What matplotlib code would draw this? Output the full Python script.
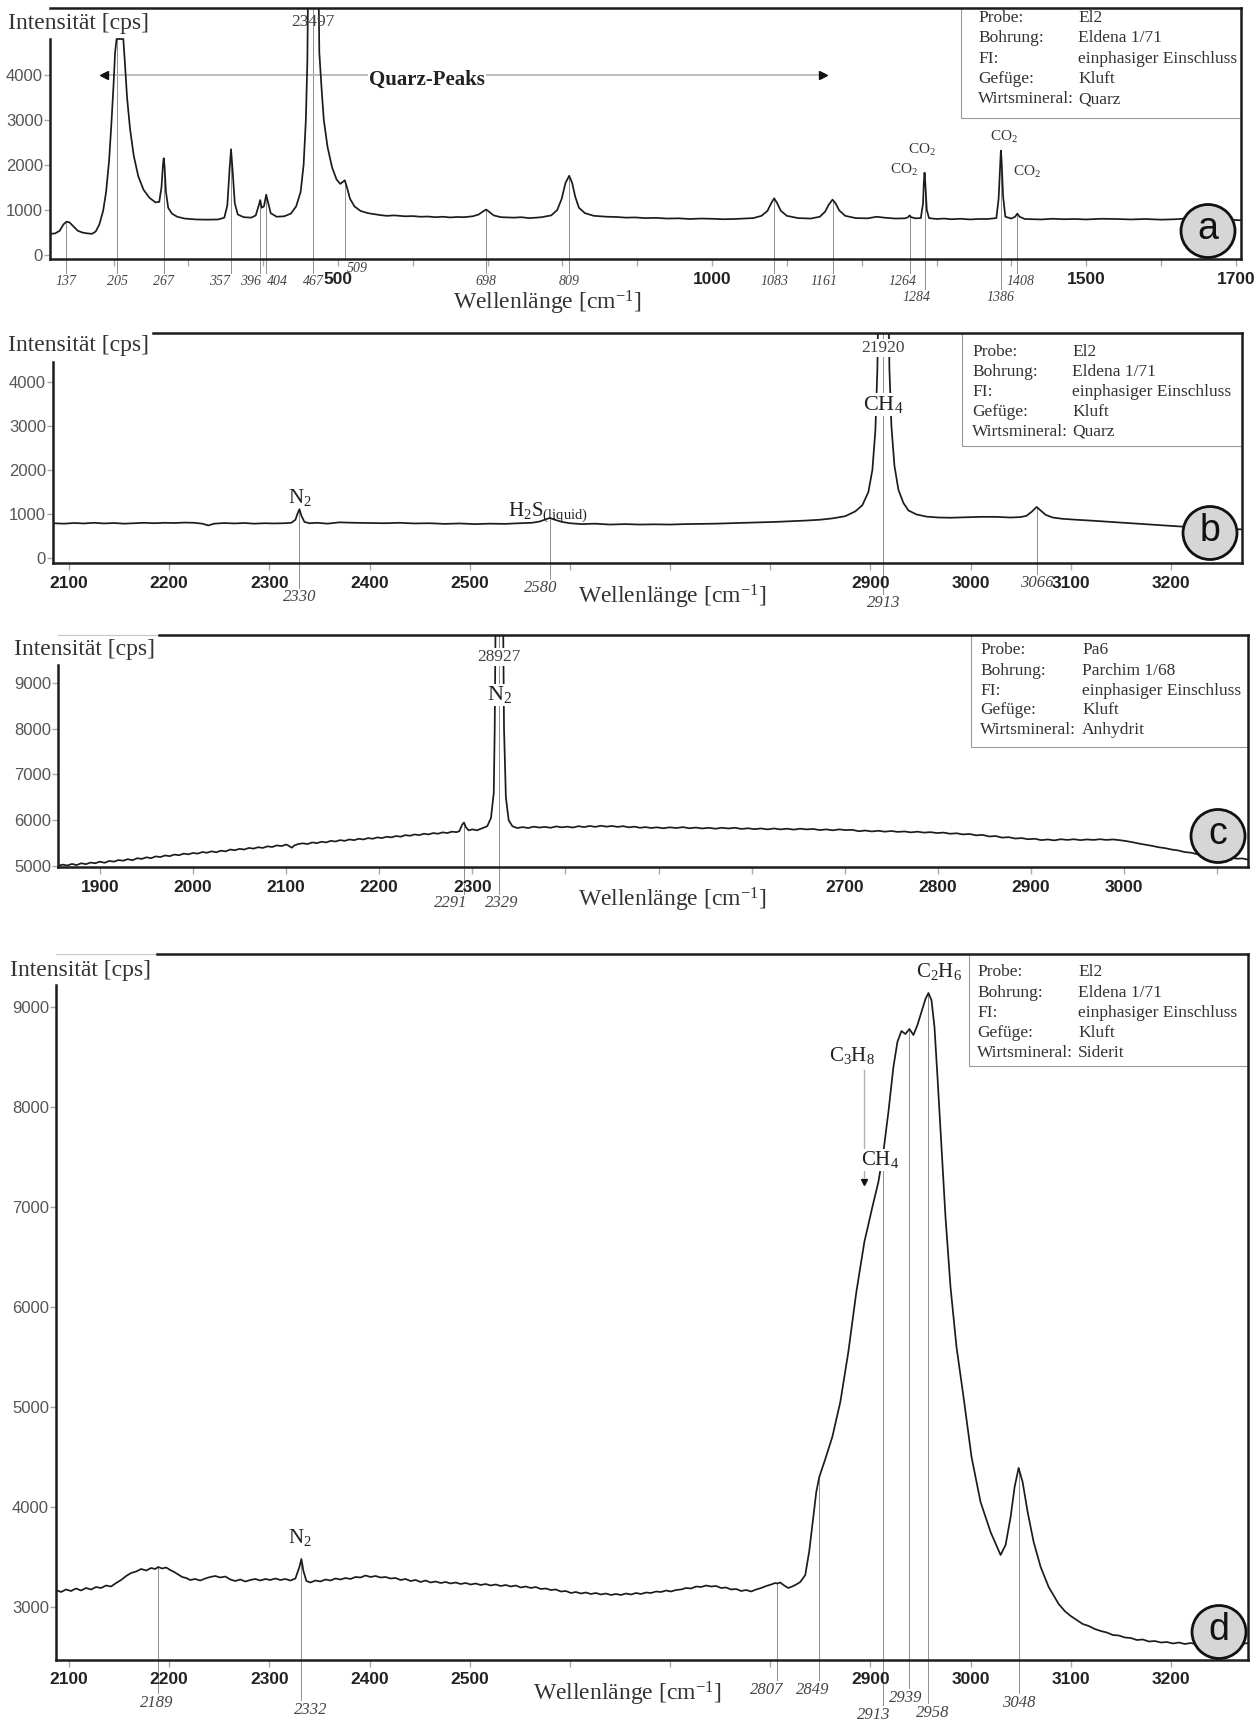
import numpy as np
import matplotlib.pyplot as plt
from matplotlib.patches import Ellipse, Rectangle

plt.rcParams['font.family'] = ['Liberation Serif', 'DejaVu Serif']
plt.rcParams['mathtext.fontset'] = 'custom'
plt.rcParams['mathtext.rm'] = 'Liberation Serif'
plt.rcParams['mathtext.it'] = 'Liberation Serif:italic'
plt.rcParams['mathtext.bf'] = 'Liberation Serif:bold'

W, H = 1255, 1722
SANS = 'Liberation Sans'
INK = '#1c1c1c'
GREY = '#8f8f8f'

# ---------------- spectra: [wavenumber, counts] ----------------
# a) El2 / Quarz, 115-1707 cm-1
spec_a = [
    [115, 470], [122, 480], [128, 540], [133, 680], [137, 740], [141, 725], [146, 640], [152, 540],
    [158, 500], [165, 480], [171, 470], [176, 520], [181, 680], [186, 980], [190, 1400], [194, 2100],
    [197, 2900], [200, 3800], [202, 4500], [204, 4800], [213, 4800], [215, 4300], [218, 3500],
    [222, 2800], [227, 2200], [233, 1750], [240, 1450], [248, 1270], [256, 1170], [261, 1180],
    [264, 1500], [266, 2000], [267, 2150], [268, 2000], [270, 1400], [273, 1050], [278, 920],
    [285, 850], [295, 810], [310, 790], [325, 785], [340, 790], [348, 830], [352, 1100], [355, 1900],
    [357, 2350], [359, 1900], [362, 1150], [366, 900], [374, 840], [384, 830], [390, 880], [394, 1100],
    [396, 1220], [398, 1050], [401, 1080], [404, 1340], [406, 1200], [410, 930], [418, 850], [428, 860],
    [437, 920], [444, 1080], [450, 1400], [454, 2000], [457, 3000], [459, 4300], [460, 6000],
    [474, 6000], [475, 4500], [478, 3700], [481, 3000], [486, 2400], [492, 1950], [498, 1680],
    [503, 1580], [506, 1620], [509, 1660], [512, 1500], [516, 1250], [522, 1080], [530, 980],
    [540, 930], [555, 890], [565, 870], [575, 880], [590, 860], [600, 865], [610, 850], [620, 855],
    [630, 840], [640, 850], [650, 835], [660, 845], [668, 840], [680, 860], [688, 900], [694, 970],
    [698, 1010], [702, 960], [708, 880], [718, 840], [728, 835], [735, 830], [745, 840], [755, 820],
    [765, 830], [772, 840], [785, 880], [793, 1000], [799, 1250], [804, 1600], [809, 1760],
    [813, 1600], [817, 1300], [822, 1050], [830, 930], [842, 870], [852, 860], [860, 850], [872, 845],
    [885, 830], [897, 835], [910, 820], [925, 825], [940, 810], [955, 815], [970, 800], [985, 810],
    [1000, 805], [1015, 795], [1030, 800], [1042, 810], [1055, 820], [1066, 870], [1074, 980],
    [1079, 1150], [1083, 1260], [1087, 1150], [1092, 980], [1100, 870], [1115, 820], [1132, 810],
    [1144, 850], [1151, 960], [1156, 1120], [1161, 1230], [1165, 1150], [1170, 990], [1178, 870],
    [1192, 820], [1208, 815], [1220, 850], [1230, 830], [1245, 810], [1258, 815], [1262, 840],
    [1264, 880], [1266, 840], [1272, 815], [1279, 820], [1282, 1150], [1283, 1600], [1284, 1830],
    [1285, 1600], [1287, 1000], [1290, 820], [1300, 800], [1310, 810], [1320, 795], [1332, 805],
    [1345, 790], [1356, 800], [1368, 800], [1380, 820], [1383, 1250], [1385, 2000], [1386, 2320],
    [1387, 2100], [1389, 1300], [1392, 850], [1400, 810], [1405, 850], [1408, 920], [1411, 850],
    [1418, 800], [1430, 795], [1440, 790], [1455, 805], [1470, 795], [1485, 800], [1500, 790],
    [1520, 805], [1540, 800], [1560, 790], [1580, 800], [1600, 785], [1620, 795], [1635, 810],
    [1650, 800], [1665, 790], [1680, 795], [1695, 780], [1707, 770],
]

# b) El2 / Quarz, 2084-3271 cm-1
spec_b = [
    [2084, 790], [2095, 780], [2105, 795], [2115, 785], [2125, 800], [2135, 785], [2145, 795],
    [2155, 780], [2165, 790], [2175, 800], [2185, 790], [2195, 800], [2205, 795], [2215, 805],
    [2225, 800], [2233, 780], [2239, 740], [2245, 780], [2255, 795], [2265, 785], [2275, 795],
    [2285, 780], [2295, 790], [2305, 785], [2315, 790], [2322, 800], [2326, 870], [2328, 1000],
    [2330, 1110], [2332, 960], [2335, 820], [2340, 790], [2348, 800], [2358, 780], [2370, 810],
    [2385, 800], [2400, 795], [2415, 790], [2430, 800], [2445, 785], [2460, 790], [2475, 775],
    [2490, 785], [2505, 770], [2520, 780], [2535, 775], [2550, 790], [2562, 800], [2570, 830],
    [2576, 880], [2580, 910], [2585, 870], [2592, 820], [2600, 790], [2612, 770], [2625, 780],
    [2640, 760], [2655, 770], [2670, 760], [2685, 765], [2700, 760], [2715, 770], [2730, 775],
    [2745, 780], [2760, 790], [2775, 800], [2790, 810], [2805, 820], [2820, 835], [2835, 850],
    [2850, 870], [2862, 900], [2875, 950], [2885, 1060], [2892, 1200], [2898, 1500], [2902, 2000],
    [2905, 2900], [2907, 4300], [2908, 6000], [2918, 6000], [2919, 4300], [2921, 3000],
    [2924, 2100], [2928, 1550], [2933, 1250], [2938, 1080], [2946, 990], [2956, 940], [2968, 920],
    [2980, 915], [2995, 925], [3010, 935], [3025, 935], [3040, 920], [3050, 930], [3056, 960],
    [3061, 1050], [3066, 1160], [3070, 1080], [3075, 980], [3082, 920], [3092, 890], [3105, 870],
    [3120, 850], [3140, 820], [3160, 790], [3180, 760], [3200, 730], [3220, 700], [3240, 680],
    [3260, 660], [3271, 650],
]

# c) Pa6 / Anhydrit, 1855-3133 cm-1
spec_c = [
    [1855, 5000], [1860, 5030], [1865, 5010], [1870, 5045], [1875, 5020], [1880, 5060], [1885, 5040],
    [1890, 5075], [1895, 5060], [1900, 5095], [1905, 5070], [1910, 5110], [1915, 5095], [1920, 5130],
    [1925, 5115], [1930, 5150], [1935, 5125], [1940, 5170], [1945, 5155], [1950, 5190], [1955, 5170],
    [1960, 5210], [1965, 5195], [1970, 5230], [1975, 5215], [1980, 5250], [1985, 5235], [1990, 5270],
    [1995, 5255], [2000, 5285], [2005, 5270], [2010, 5305], [2015, 5290], [2020, 5320], [2025, 5300],
    [2030, 5335], [2035, 5320], [2040, 5360], [2045, 5345], [2050, 5375], [2055, 5360], [2060, 5395],
    [2065, 5380], [2070, 5410], [2075, 5395], [2080, 5430], [2085, 5415], [2090, 5450], [2095, 5435],
    [2100, 5470], [2103, 5440], [2106, 5400], [2109, 5450], [2113, 5480], [2118, 5495], [2123, 5480],
    [2128, 5515], [2133, 5500], [2138, 5530], [2143, 5515], [2148, 5550], [2153, 5535], [2158, 5565],
    [2163, 5550], [2168, 5580], [2173, 5565], [2178, 5595], [2183, 5580], [2188, 5610], [2193, 5595],
    [2198, 5625], [2203, 5610], [2208, 5640], [2213, 5625], [2218, 5655], [2223, 5640], [2228, 5675],
    [2233, 5660], [2238, 5690], [2243, 5675], [2248, 5705], [2253, 5690], [2258, 5720], [2263, 5705],
    [2268, 5735], [2273, 5720], [2278, 5750], [2283, 5740], [2286, 5760], [2289, 5900], [2291, 5950],
    [2293, 5850], [2296, 5780], [2300, 5800], [2305, 5780], [2310, 5820], [2316, 5870], [2320, 6050],
    [2323, 6600], [2324, 8000], [2325, 10500], [2333, 10500], [2334, 8000], [2336, 6500],
    [2339, 6000], [2343, 5870], [2348, 5830], [2354, 5850], [2360, 5830], [2366, 5860], [2372, 5840],
    [2378, 5855], [2384, 5835], [2390, 5865], [2396, 5845], [2402, 5860], [2408, 5840], [2414, 5870],
    [2420, 5850], [2426, 5875], [2432, 5855], [2438, 5880], [2444, 5860], [2450, 5875], [2456, 5855],
    [2462, 5870], [2468, 5845], [2474, 5860], [2480, 5835], [2486, 5850], [2492, 5830], [2498, 5845],
    [2505, 5825], [2512, 5845], [2519, 5830], [2526, 5850], [2533, 5825], [2540, 5840], [2547, 5820],
    [2554, 5835], [2561, 5815], [2568, 5835], [2575, 5820], [2582, 5835], [2589, 5810], [2596, 5825],
    [2603, 5805], [2610, 5820], [2617, 5800], [2624, 5820], [2631, 5800], [2638, 5815], [2645, 5795],
    [2652, 5815], [2659, 5800], [2666, 5810], [2673, 5785], [2680, 5800], [2687, 5780], [2694, 5800],
    [2701, 5785], [2708, 5790], [2715, 5760], [2722, 5775], [2729, 5755], [2736, 5770], [2743, 5750],
    [2750, 5765], [2757, 5745], [2764, 5755], [2771, 5735], [2778, 5750], [2785, 5730], [2792, 5740],
    [2799, 5720], [2806, 5730], [2813, 5705], [2820, 5715], [2827, 5690], [2834, 5700], [2841, 5670],
    [2848, 5680], [2855, 5645], [2862, 5655], [2869, 5620], [2876, 5630], [2883, 5600], [2890, 5610],
    [2897, 5585], [2904, 5595], [2911, 5565], [2918, 5580], [2925, 5560], [2932, 5585], [2939, 5570],
    [2946, 5585], [2953, 5565], [2960, 5580], [2967, 5570], [2974, 5585], [2981, 5570], [2988, 5580],
    [2995, 5565], [3002, 5545], [3009, 5520], [3016, 5490], [3023, 5465], [3030, 5440], [3037, 5410],
    [3044, 5390], [3051, 5360], [3058, 5340], [3065, 5305], [3072, 5290], [3079, 5255], [3086, 5245],
    [3093, 5210], [3100, 5205], [3107, 5180], [3114, 5185], [3121, 5160], [3127, 5165], [3133, 5140],
]

# d) El2 / Siderit, 2087-3277 cm-1
spec_d = [
    [2087, 3170], [2092, 3150], [2097, 3175], [2102, 3160], [2107, 3185], [2112, 3165], [2117, 3190],
    [2122, 3175], [2127, 3200], [2132, 3190], [2137, 3215], [2142, 3205], [2147, 3240], [2152, 3270],
    [2157, 3310], [2162, 3340], [2167, 3355], [2172, 3380], [2177, 3365], [2182, 3390], [2186, 3380],
    [2189, 3400], [2193, 3385], [2197, 3395], [2201, 3370], [2205, 3350], [2209, 3325], [2213, 3300],
    [2217, 3290], [2221, 3270], [2226, 3280], [2231, 3265], [2236, 3285], [2241, 3300], [2246, 3310],
    [2251, 3295], [2256, 3305], [2261, 3275], [2266, 3260], [2271, 3275], [2276, 3255], [2281, 3270],
    [2286, 3280], [2291, 3265], [2296, 3280], [2301, 3270], [2306, 3285], [2311, 3270], [2316, 3280],
    [2321, 3265], [2326, 3285], [2330, 3400], [2332, 3480], [2334, 3360], [2337, 3260], [2341, 3245],
    [2346, 3265], [2351, 3255], [2356, 3275], [2361, 3265], [2366, 3285], [2371, 3275], [2376, 3290],
    [2381, 3280], [2386, 3300], [2391, 3295], [2396, 3315], [2401, 3300], [2406, 3310], [2411, 3295],
    [2416, 3300], [2421, 3285], [2426, 3290], [2431, 3270], [2436, 3280], [2441, 3260], [2446, 3270],
    [2451, 3250], [2456, 3265], [2461, 3245], [2466, 3255], [2471, 3240], [2476, 3250], [2481, 3235],
    [2486, 3245], [2491, 3230], [2496, 3240], [2501, 3225], [2506, 3235], [2511, 3220], [2516, 3230],
    [2521, 3215], [2526, 3225], [2531, 3210], [2536, 3220], [2541, 3205], [2546, 3215], [2551, 3195],
    [2556, 3205], [2561, 3190], [2566, 3200], [2571, 3180], [2576, 3185], [2581, 3170], [2586, 3175],
    [2591, 3155], [2596, 3160], [2601, 3140], [2606, 3150], [2611, 3135], [2616, 3145], [2621, 3130],
    [2626, 3140], [2631, 3125], [2636, 3135], [2641, 3120], [2646, 3130], [2651, 3120], [2656, 3135],
    [2661, 3125], [2666, 3140], [2671, 3130], [2676, 3145], [2681, 3140], [2686, 3155], [2691, 3150],
    [2696, 3165], [2701, 3155], [2706, 3170], [2711, 3175], [2716, 3190], [2721, 3185], [2726, 3205],
    [2731, 3200], [2736, 3215], [2741, 3205], [2746, 3210], [2751, 3190], [2756, 3195], [2761, 3175],
    [2766, 3180], [2771, 3160], [2776, 3170], [2781, 3155], [2786, 3175], [2791, 3190], [2796, 3210],
    [2801, 3225], [2805, 3240], [2807, 3235], [2810, 3245], [2814, 3215], [2818, 3190], [2822, 3205],
    [2826, 3225], [2830, 3250], [2835, 3320], [2839, 3560], [2843, 3900], [2846, 4150], [2849, 4300],
    [2855, 4480], [2862, 4700], [2870, 5050], [2878, 5550], [2886, 6150], [2894, 6650], [2902, 7000],
    [2908, 7250], [2913, 7550], [2918, 7950], [2923, 8400], [2927, 8650], [2931, 8760], [2935, 8730],
    [2939, 8780], [2943, 8720], [2947, 8820], [2951, 8950], [2955, 9080], [2958, 9140], [2961, 9070],
    [2964, 8800], [2967, 8300], [2971, 7600], [2975, 6900], [2980, 6200], [2986, 5600], [2993, 5100],
    [3001, 4500], [3010, 4050], [3020, 3750], [3030, 3520], [3035, 3620], [3040, 3900], [3044, 4200],
    [3048, 4390], [3052, 4250], [3057, 3950], [3063, 3650], [3070, 3400], [3078, 3200], [3088, 3030],
    [3094, 2960], [3100, 2910], [3106, 2870], [3112, 2830], [3118, 2810], [3124, 2780], [3130, 2760],
    [3136, 2745], [3142, 2720], [3148, 2715], [3154, 2695], [3160, 2690], [3166, 2670], [3172, 2675],
    [3178, 2655], [3184, 2660], [3190, 2645], [3196, 2650], [3202, 2635], [3208, 2645], [3214, 2630],
    [3220, 2640], [3226, 2625], [3232, 2635], [3238, 2620], [3244, 2630], [3250, 2620], [3256, 2630],
    [3262, 2615], [3268, 2625], [3277, 2640],
]

# peak positions, label x-offset and label height (counts)
peaks_a = [137, 205, 267, 357, 396, 404, 467, 509, 698, 809, 1083, 1161, 1264, 1284, 1386, 1408]
dx_a = [0, 0, 0, -15, -13, 15, 0, 17, 0, 0, 0, -12, -10, -11, 0, 4]
ly_a = [-600, -600, -600, -600, -600, -600, -600, -290, -600, -600, -600, -600, -600, -955, -955, -600]

peaks_b = [2330, 2580, 2913, 3066]
dx_b = [0, -9, 0, 0]
ly_b = [-890, -680, -1020, -570]

peaks_c = [2291, 2329]
dx_c = [-14, 3]
ly_c = [4190, 4190]

peaks_d = [2189, 2332, 2807, 2849, 2913, 2939, 2958, 3048]
dx_d = [-1, 9, -10, -7, -10, -4, 4, 0]
ly_d = [2040, 1970, 2170, 2170, 1920, 2090, 1940, 2040]

info_a = [('Probe:', 'El2'), ('Bohrung:', 'Eldena 1/71'), ('FI:', 'einphasiger Einschluss'),
          ('Gefüge:', 'Kluft'), ('Wirtsmineral:', 'Quarz')]
info_b = [('Probe:', 'El2'), ('Bohrung:', 'Eldena 1/71'), ('FI:', 'einphasiger Einschluss'),
          ('Gefüge:', 'Kluft'), ('Wirtsmineral:', 'Quarz')]
info_c = [('Probe:', 'Pa6'), ('Bohrung:', 'Parchim 1/68'), ('FI:', 'einphasiger Einschluss'),
          ('Gefüge:', 'Kluft'), ('Wirtsmineral:', 'Anhydrit')]
info_d = [('Probe:', 'El2'), ('Bohrung:', 'Eldena 1/71'), ('FI:', 'einphasiger Einschluss'),
          ('Gefüge:', 'Kluft'), ('Wirtsmineral:', 'Siderit')]

fig = plt.figure(figsize=(W / 100, H / 100), dpi=100)


def fx(x, y):
    # pixel position -> figure fraction
    return x / W, 1 - y / H


def panel(box, xlim, ylim, xticks, xshown, yticks, left_top, top_from=None):
    left, top, right, bottom = box
    ax = fig.add_axes([left / W, 1 - bottom / H, (right - left) / W, (bottom - top) / H])
    ax.set_xlim(xlim)
    ax.set_ylim(ylim)
    ax.set_xticks(xticks)
    ax.set_xticklabels([str(t) if t in xshown else '' for t in xticks],
                       fontfamily=SANS, fontweight='bold', fontsize=12.5, color='#222')
    ax.set_yticks(yticks)
    ax.set_yticklabels([str(t) for t in yticks], fontfamily=SANS, fontsize=12, color='#555')
    ax.tick_params(axis='x', length=5, width=1, color='#aaa', pad=4)
    ax.tick_params(axis='y', length=4, width=1, color='#aaa', pad=1)
    for s in ax.spines.values():
        s.set_linewidth(1.8)
        s.set_color(INK)
    ax.spines['left'].set_bounds(ylim[0], left_top)
    if top_from is not None:
        ax.spines['top'].set_bounds(top_from, xlim[1])
    return ax


def spectrum(ax, spec):
    wn, counts = np.array(spec, dtype=float).T
    ax.plot(wn, counts, color=INK, lw=1.25, zorder=2)
    return wn, counts


def mark_peaks(ax, wn, counts, peaks, dx, ly, gap, size):
    ytop = ax.get_ylim()[1]
    for p, d, y in zip(peaks, dx, ly):
        top = min(np.interp(p, wn, counts), ytop)
        ax.plot([p, p], [y + gap, top], color=GREY, lw=0.7, zorder=1, clip_on=False)
        ax.text(p + d, y, str(p), style='italic', fontsize=size, color='#444',
                ha='center', va='center', clip_on=False)


def info_box(ax, x0, y0, x1, y1, col1, col2, rows_y, rows):
    ax.add_patch(Rectangle(fx(x0, y1), (x1 - x0) / W, (y1 - y0) / H, transform=fig.transFigure,
                           facecolor='white', edgecolor='#999', lw=0.8, zorder=2.2, clip_on=False))
    for (k, v), ry in zip(rows, rows_y):
        ax.text(*fx(col1, ry), k, transform=fig.transFigure, fontsize=12.5, color='#333', va='center')
        ax.text(*fx(col2, ry), v, transform=fig.transFigure, fontsize=12.5, color='#333', va='center')


def badge(ax, cx, cy, letter):
    ax.add_patch(Ellipse(fx(cx, cy), 54 / W, 53 / H, transform=fig.transFigure, facecolor='#d6d6d6',
                         edgecolor='#111', lw=2, zorder=6, clip_on=False))
    ax.text(*fx(cx, cy - 2), letter, transform=fig.transFigure, fontfamily=SANS, fontsize=27,
            ha='center', va='center', color='#111', zorder=7)


def axis_titles(lx, ly, wx, wy):
    fig.text(*fx(lx, ly), 'Intensität [cps]', fontsize=17, color='#333', va='center')
    fig.text(*fx(wx, wy), 'Wellenlänge [cm$^{-1}$]', fontsize=17, color='#333', ha='center', va='center')


white = dict(facecolor='white', edgecolor='none', pad=0.6)

# ---------------- a ----------------
ax_a = panel((50, 8, 1241, 259), (115, 1707), (-89, 5489), list(range(200, 1701, 100)),
             {500, 1000, 1500, 1700}, [0, 1000, 2000, 3000, 4000], 4800)
wn, cts = spectrum(ax_a, spec_a)
mark_peaks(ax_a, wn, cts, peaks_a, dx_a, ly_a, 200, 10)
ax_a.plot([187, 1148], [4000, 4000], color='#b8b8b8', lw=1.3, zorder=1)
ax_a.plot([187], [4000], marker='<', color='#111', ms=6, zorder=3)
ax_a.plot([1148], [4000], marker='>', color='#111', ms=6, zorder=3)
ax_a.text(619, 3890, 'Quarz-Peaks', fontweight='bold', fontsize=15, color='#222',
          ha='center', va='center', bbox=white)
ax_a.text(467, 5180, '23497', fontsize=12.5, color='#444', ha='center', va='center')
for x, y in [(1257, 1890), (1281, 2330), (1390, 2620), (1421, 1840)]:
    ax_a.text(x, y, 'CO$_2$', fontsize=11, color='#333', ha='center', va='center')
info_box(ax_a, 961, 8, 1241, 118, 978, 1078, [18, 38, 59, 79, 99], info_a)
badge(ax_a, 1208, 231, 'a')
axis_titles(8, 24, 547, 303)

# ---------------- b ----------------
ax_b = panel((53, 333, 1242, 563), (2084, 3271), (-114, 5114), list(range(2100, 3201, 100)),
             {2100, 2200, 2300, 2400, 2500, 2900, 3000, 3100, 3200}, [0, 1000, 2000, 3000, 4000],
             4450, top_from=2184)
wn, cts = spectrum(ax_b, spec_b)
mark_peaks(ax_b, wn, cts, peaks_b, dx_b, ly_b, 200, 12)
ax_b.text(2330, 1386, 'N$_2$', fontsize=15, color='#222', ha='center', va='center')
ax_b.text(2578, 1045, 'H$_2$S$_{\\mathrm{(liquid)}}$', fontsize=15, color='#222', ha='center', va='center')
ax_b.text(2913, 4770, '21920', fontsize=12.5, color='#444', ha='center', va='center', bbox=white)
ax_b.text(2913, 3480, 'CH$_4$', fontsize=16, color='#222', ha='center', va='center', bbox=white)
info_box(ax_b, 962, 333, 1242, 446, 972, 1072, [352, 372, 392, 412, 432], info_b)
badge(ax_b, 1210, 533, 'b')
axis_titles(8, 345, 672, 597)

# ---------------- c ----------------
ax_c = panel((58, 635, 1248, 867), (1855, 3133), (4978, 10049), list(range(1900, 3101, 100)),
             {1900, 2000, 2100, 2200, 2300, 2700, 2800, 2900, 3000},
             [5000, 6000, 7000, 8000, 9000], 9390, top_from=1963)
ax_c.plot([1855, 1963], [10049, 10049], color='#c8c8c8', lw=0.8, clip_on=False)
wn, cts = spectrum(ax_c, spec_c)
mark_peaks(ax_c, wn, cts, peaks_c, dx_c, ly_c, 190, 12)
ax_c.text(2329, 9568, '28927', fontsize=12.5, color='#444', ha='center', va='center', bbox=white)
ax_c.text(2329, 8738, 'N$_2$', fontsize=16, color='#222', ha='center', va='center', bbox=white)
info_box(ax_c, 971, 635, 1248, 747, 980, 1082, [650, 671, 691, 710, 730], info_c)
badge(ax_c, 1218, 836, 'c')
axis_titles(14, 650, 672, 900)

# ---------------- d ----------------
ax_d = panel((56, 954, 1248, 1660), (2087, 3277), (2470, 9530), list(range(2100, 3201, 100)),
             {2100, 2200, 2300, 2400, 2500, 2900, 3000, 3100, 3200},
             [3000, 4000, 5000, 6000, 7000, 8000, 9000], 9220, top_from=2188)
ax_d.plot([2087, 2188], [9530, 9530], color='#c8c8c8', lw=0.8, clip_on=False)
wn, cts = spectrum(ax_d, spec_d)
mark_peaks(ax_d, wn, cts, peaks_d, dx_d, ly_d, 100, 12)
ax_d.text(2330, 3700, 'N$_2$', fontsize=15, color='#222', ha='center', va='center')
ax_d.plot([2894, 2894], [8370, 7300], color='#b0b0b0', lw=1, zorder=1)
ax_d.plot([2894], [7250], marker='v', color='#111', ms=5, zorder=3)
ax_d.text(2882, 8520, 'C$_3$H$_8$', fontsize=15, color='#222', ha='center', va='center')
ax_d.text(2910, 7470, 'CH$_4$', fontsize=15, color='#222', ha='center', va='center', bbox=white)
ax_d.text(2969, 9350, 'C$_2$H$_6$', fontsize=15, color='#222', ha='center', va='center')
info_box(ax_d, 969, 954, 1248, 1066, 977, 1078, [972, 993, 1013, 1033, 1053], info_d)
badge(ax_d, 1219, 1632, 'd')
axis_titles(10, 970, 627, 1694)

fig.savefig('out.png', dpi=100, facecolor='white')
